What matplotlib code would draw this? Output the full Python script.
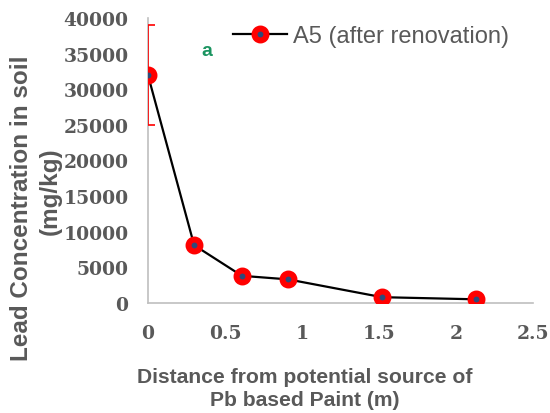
import matplotlib
matplotlib.use('Agg')
import matplotlib.pyplot as plt

# distance from paint source (m) and lead in soil (mg/kg)
distance = [0, 0.3, 0.61, 0.91, 1.52, 2.13]
lead = [32000, 8100, 3800, 3300, 800, 500]
lead_err = [7000, 0, 0, 0, 0, 0]

xticks = [0, 0.5, 1, 1.5, 2, 2.5]
xticklabels = ['0', '0.5', '1', '1.5', '2', '2.5']
yticks = [0, 5000, 10000, 15000, 20000, 25000, 30000, 35000, 40000]

grey = '#595959'
W, H = 550, 414

fig = plt.figure(figsize=(5.5, 4.14), dpi=100)
ax = fig.add_axes([0.269, 0.266, 0.70, 0.688])

# error bar only on the first point, caps half clipped at the axis edge
ax.errorbar(distance[:1], lead[:1], yerr=lead_err[:1], fmt='none',
            ecolor='#FF0000', elinewidth=1.2, capsize=5, capthick=1.2, zorder=3)
ax.plot(distance, lead, color='black', lw=1.6, marker='o', ms=8.6,
        mfc='#2E4A7A', mec='#FF0000', mew=4.3, label='A5 (after renovation)', zorder=4)

ax.set_xlim(0, 2.5)
ax.set_ylim(0, 40000)
ax.set_xticks(xticks)
ax.set_xticklabels(xticklabels)
ax.set_yticks(yticks)
for lab in ax.get_xticklabels() + ax.get_yticklabels():
    lab.set_family('DejaVu Serif')
    lab.set_weight('bold')
    lab.set_color(grey)
    lab.set_fontsize(13.5)
ax.tick_params(length=0)
ax.tick_params(axis='y', pad=14)
ax.tick_params(axis='x', pad=15)

for s in ['top', 'right']:
    ax.spines[s].set_visible(False)
for s in ['left', 'bottom']:
    ax.spines[s].set_color('#BFBFBF')
    ax.spines[s].set_linewidth(1.2)

# axis titles
lab_kw = dict(family='Liberation Sans', weight='bold', color=grey)
fig.text(22 / W, 1 - 208 / H, 'Lead Concentration in soil', rotation=90,
         ha='center', va='center', fontsize=17.5, **lab_kw)
fig.text(50 / W, 1 - 191 / H, '(mg/kg)', rotation=90,
         ha='center', va='center', fontsize=17.5, **lab_kw)
fig.text(305 / W, 1 - 389 / H, 'Distance from potential source of\nPb based Paint (m)',
         ha='center', va='center', fontsize=15.2, linespacing=1.25, **lab_kw)

ax.text(0.38, 35500, 'a', color='#1A9460', weight='bold', family='Liberation Sans',
        fontsize=14, ha='center', va='center')

leg = ax.legend(loc='center left', bbox_to_anchor=(233 / W, 1 - 37 / H),
                bbox_transform=fig.transFigure, frameon=False,
                prop={'family': 'Liberation Sans', 'size': 17}, handlelength=2.3,
                handletextpad=0.26, borderaxespad=0, borderpad=0)
for t in leg.get_texts():
    t.set_color(grey)

fig.savefig('out.png', dpi=100)
